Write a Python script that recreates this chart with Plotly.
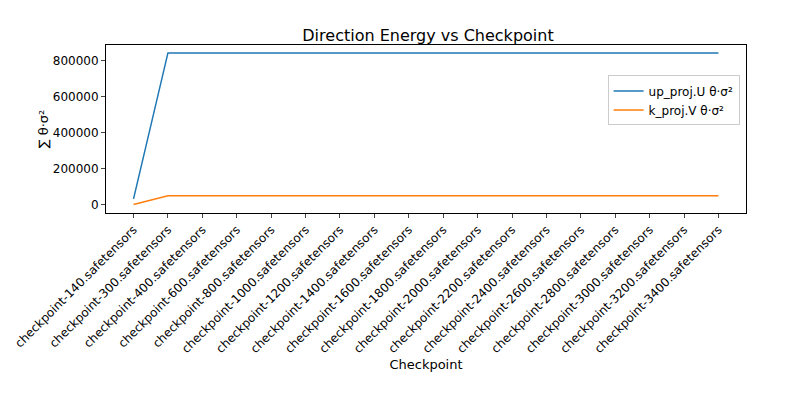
import plotly.graph_objects as go

checkpoints = [140, 300, 400, 600, 800, 1000, 1200, 1400, 1600, 1800, 2000, 2200, 2400, 2600, 2800, 3000, 3200, 3400]
labels = [f"checkpoint-{c}.safetensors" for c in checkpoints]
up_proj = [33000] + [841000] * 17
k_proj = [2000] + [50000] * 17

fig = go.Figure()
fig.add_trace(go.Scatter(x=labels, y=up_proj, mode="lines", name="up_proj.U θ·σ²",
                         line=dict(color="#1f77b4", width=1.5)))
fig.add_trace(go.Scatter(x=labels, y=k_proj, mode="lines", name="k_proj.V θ·σ²",
                         line=dict(color="#ff7f0e", width=1.5)))
fig.update_layout(
    width=800, height=400, template="none",
    font=dict(family="DejaVu Sans", size=12, color="black"),
    title=dict(text="Direction Energy vs Checkpoint", x=0.525, xanchor="center", y=0.945, font=dict(size=16)),
    margin=dict(l=98, r=62, t=37, b=195),
    plot_bgcolor="white", paper_bgcolor="white",
    legend=dict(x=0.99, y=0.67, xanchor="right", yanchor="middle", bordercolor="#ccc", borderwidth=1,
                bgcolor="rgba(255,255,255,0.8)", font=dict(size=12)),
    xaxis=dict(title=dict(text="Checkpoint", standoff=5, font=dict(size=13)), tickangle=-45, showgrid=False,
               showline=True, mirror=True, automargin=False,
               linecolor="black", ticks="outside", ticklen=4, range=[-0.8, 17.8], tickfont=dict(size=12)),
    yaxis=dict(title=dict(text="∑ θ·σ²", font=dict(size=13)), showgrid=False, showline=True, mirror=True,
               linecolor="black", zeroline=False, automargin=False,
               ticks="outside", ticklen=4, range=[-45000, 885000], tickvals=[0, 200000, 400000, 600000, 800000],
               tickformat="d"),
)
fig.write_html("out.html")
